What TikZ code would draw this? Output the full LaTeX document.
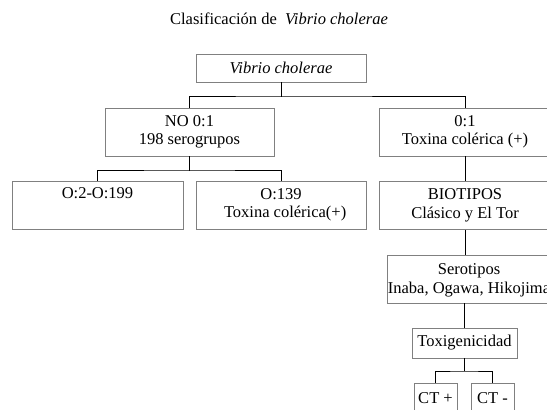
\documentclass[tikz,border=0pt]{standalone}
\usepackage{fontspec}
\setmainfont{Liberation Serif}
\begin{document}
\begin{tikzpicture}[x=1pt,y=-1pt,
  box/.style={draw=black!50, line width=0.9pt, align=center, inner sep=0pt,
    minimum height=48pt, font=\fontsize{16.5}{18.5}\selectfont},
  conn/.style={draw=black, line width=1pt}]
\useasboundingbox (0,0) rectangle (547,410);
\clip (0,0) rectangle (547,410);
\fill[white] (0,0) rectangle (547,410);
\node[anchor=base, font=\fontsize{16.5}{18.5}\selectfont] (title) at (279,24) {Clasificación de\ \ \textit{Vibrio cholerae}};
\node[box, minimum width=170pt, minimum height=28pt] (vib) at (281,68) {\textit{Vibrio cholerae}};
\node[box, minimum width=169pt] (no) at (189.5,132) {NO 0:1\\198 serogrupos};
\node[box, minimum width=172pt] (o1) at (465,132) {0:1\\Toxina colérica (+)};
\node[box, minimum width=171pt] (o2) at (97.5,205) {O:2-O:199\\\strut};
\node[box, minimum width=170pt] (o139) at (281,205) {O:139\\\ \ Toxina colérica(+)};
\node[box, minimum width=172pt] (bio) at (465,205.5) {BIOTIPOS\\Clásico y El Tor};
\node[box, minimum width=180pt] (sero) at (477,279) {};
\node[align=center, inner sep=0pt, font=\fontsize{16.5}{19}\selectfont] (serot) at (469,280) {Serotipos\\Inaba, Ogawa, Hikojima};
\node[box, minimum width=105pt, minimum height=30pt] (tox) at (464.5,343) {Toxigenicidad};
\node[box, minimum width=43pt, minimum height=30pt] (ctp) at (435.5,398) {CT +};
\node[box, minimum width=43pt, minimum height=30pt] (ctm) at (492.5,398) {CT -};
\coordinate (j1) at (281,96);
\coordinate (j2) at (189.5,170);
\coordinate (j3) at (464.5,371);
\draw[conn] (vib.south) -- ++(0,15);
\draw[conn] (no.north) |- (j1) -| (o1.north);
\draw[conn] (no.south) -- ++(0,15);
\draw[conn] (o2.north) |- (j2) -| (o139.north);
\draw[conn] (o1.south) -- (bio.north);
\draw[conn] (bio.south) -- (bio.south |- sero.north);
\draw[conn] (sero.south -| tox.north) -- (tox.north);
\draw[conn] (tox.south) -- (j3);
\draw[conn] (ctp.north) |- (j3) -| (ctm.north);
\end{tikzpicture}
\end{document}
